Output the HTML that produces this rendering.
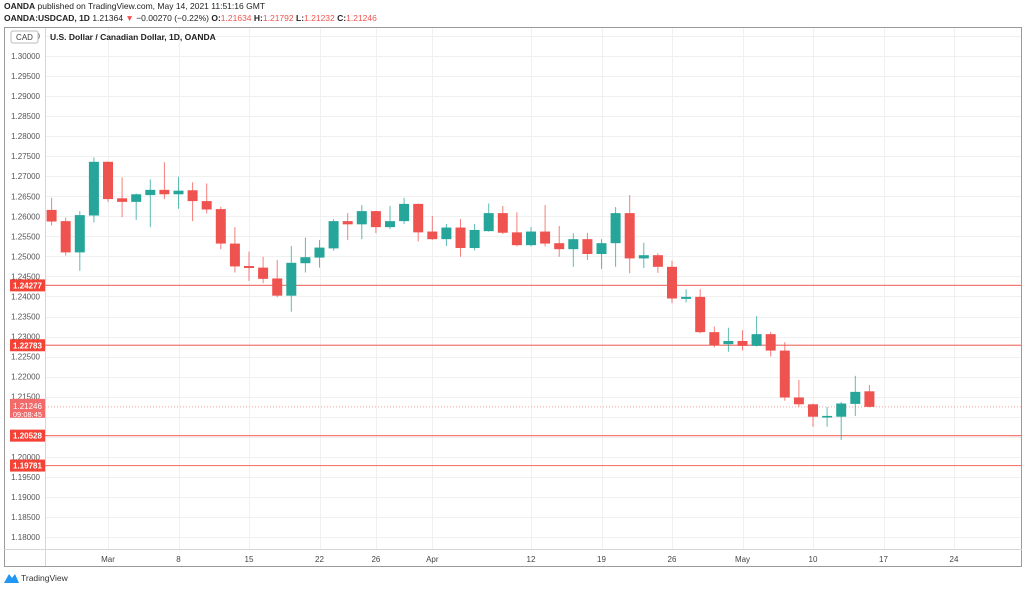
<!DOCTYPE html>
<html><head><meta charset="utf-8"><style>
body{margin:0;width:1024px;height:589px;background:#fff;overflow:hidden;font-family:"Liberation Sans",sans-serif;}
svg{display:block}
</style></head><body>
<svg id="c" width="1024" height="589" xmlns="http://www.w3.org/2000/svg">
<text x="4" y="9" font-size="8.5" fill="#222"><tspan font-weight="bold">OANDA</tspan> published on TradingView.com, May 14, 2021 11:51:16 GMT</text>
<text x="4" y="21" font-size="8.5" fill="#222"><tspan font-weight="bold">OANDA:USDCAD, 1D</tspan> 1.21364 <tspan fill="#ef5350">▼</tspan> −0.00270 (−0.22%) <tspan font-weight="bold">O:</tspan><tspan fill="#ef5350">1.21634</tspan> <tspan font-weight="bold">H:</tspan><tspan fill="#ef5350">1.21792</tspan> <tspan font-weight="bold">L:</tspan><tspan fill="#ef5350">1.21232</tspan> <tspan font-weight="bold">C:</tspan><tspan fill="#ef5350">1.21246</tspan></text>
<rect x="4.5" y="27.5" width="1017" height="539" fill="none" stroke="#9a9a9a"/>
<g id="grid"></g>
<line x1="45.5" y1="28" x2="45.5" y2="566" stroke="#d6d6d6"/>
<line x1="4" y1="549.5" x2="1022" y2="549.5" stroke="#d6d6d6"/>
<g id="ylabels"></g>
<g id="xlabels"></g>
<g id="hlines"></g>
<g id="candles"></g>
<g id="badges"></g>
<rect x="11" y="31" width="27" height="12" rx="2" fill="#fff" stroke="#bbb"/>
<text x="24.5" y="40" font-size="8" fill="#444" text-anchor="middle">CAD</text>
<text x="50" y="40" font-size="8.5" font-weight="bold" fill="#222">U.S. Dollar / Canadian Dollar, 1D, OANDA</text>
<g><path d="M4 583 L9 574 L12 578 L15 574 L19 583 Z" fill="#2196f3"/><text x="21" y="581" font-size="8.5" fill="#333">TradingView</text></g>
</svg>
<script>
const opens=[1.2616,1.2588,1.2510,1.2602,1.2736,1.2645,1.2636,1.2653,1.2666,1.2655,1.2665,1.2638,1.2618,1.2532,1.2476,1.2472,1.2445,1.2402,1.2483,1.2497,1.2520,1.2588,1.2580,1.2613,1.2573,1.2588,1.2631,1.2562,1.2543,1.2572,1.2521,1.2563,1.2608,1.2560,1.2528,1.2562,1.2533,1.2518,1.2543,1.2506,1.2533,1.2608,1.2495,1.2503,1.2474,1.2394,1.2399,1.2311,1.2281,1.2289,1.2277,1.2306,1.2265,1.2148,1.2131,1.2098,1.2100,1.2132,1.21634];
const highs=[1.2646,1.2597,1.2613,1.2747,1.2737,1.2697,1.2657,1.2692,1.2735,1.2699,1.2685,1.2682,1.2624,1.2573,1.2512,1.2499,1.2491,1.2526,1.2547,1.2541,1.2593,1.2608,1.2628,1.2614,1.2626,1.2646,1.2632,1.2601,1.2581,1.2593,1.2581,1.2632,1.2626,1.2610,1.2573,1.2628,1.2576,1.2558,1.2559,1.2543,1.2623,1.2653,1.2534,1.2508,1.2489,1.2418,1.2418,1.2325,1.2322,1.2316,1.2351,1.2312,1.2286,1.2192,1.2133,1.2124,1.2137,1.2202,1.21792];
const lows=[1.2577,1.2502,1.2464,1.2585,1.2636,1.2598,1.2591,1.2573,1.2643,1.2619,1.2588,1.2607,1.2518,1.2460,1.2439,1.2433,1.2398,1.2362,1.2460,1.2472,1.2514,1.2541,1.2543,1.2558,1.2568,1.2581,1.2537,1.2541,1.2526,1.2499,1.2515,1.2562,1.2556,1.2525,1.2525,1.2525,1.2499,1.2474,1.2491,1.2469,1.2474,1.2458,1.2471,1.2459,1.2383,1.2385,1.2308,1.2273,1.2262,1.2265,1.2275,1.2250,1.2140,1.2124,1.2075,1.2075,1.2042,1.2102,1.21232];
const closes=[1.2587,1.2510,1.2603,1.2736,1.2643,1.2636,1.2655,1.2666,1.2655,1.2664,1.2638,1.2617,1.2532,1.2475,1.2471,1.2444,1.2402,1.2484,1.2498,1.2522,1.2588,1.2580,1.2613,1.2573,1.2588,1.2631,1.2560,1.2543,1.2572,1.2521,1.2566,1.2608,1.2559,1.2528,1.2562,1.2532,1.2518,1.2543,1.2506,1.2533,1.2608,1.2495,1.2503,1.2474,1.2395,1.2399,1.2311,1.2279,1.2289,1.2277,1.2306,1.2265,1.2148,1.2131,1.2100,1.2102,1.2133,1.2162,1.21246];
const levels=[1.24277,1.22783,1.20528,1.19781];
const lastPrice=1.21246;
const priceTicks=[1.305,1.300,1.295,1.290,1.285,1.280,1.275,1.270,1.265,1.260,1.255,1.250,1.245,1.240,1.235,1.230,1.225,1.220,1.215,1.200,1.195,1.190,1.185,1.180];
const timeLabels=["Mar","8","15","22","26","Apr","12","19","26","May","10","17","24"];
const timeIdx=[4,9,14,19,23,27,34,39,44,49,54,59,64];

const NS="http://www.w3.org/2000/svg";
function y(p){return 56+(1.30-p)/0.005*20.04;}
function x(i){return 51.6+i*14.1;}
function mk(t,a,parent){const e=document.createElementNS(NS,t);for(const k in a)e.setAttribute(k,a[k]);document.getElementById(parent).appendChild(e);return e;}

for(let t=1.305;t>1.176;t-=0.005){
  const l=mk('line',{x1:46,x2:1021,y1:Math.round(y(t))+0.5,y2:Math.round(y(t))+0.5,stroke:'#f0f0f0'},'grid');
  
  
}
timeIdx.forEach((ti,k)=>{
  const xx=Math.round(x(ti))+0.5;
  const l=mk('line',{x1:xx,x2:xx,y1:28,y2:549,stroke:'#f0f0f0'},'grid');
  
  
  const tx=mk('text',{x:x(ti),y:562,'font-size':8,fill:'#444','text-anchor':'middle'},'xlabels');
  tx.textContent=timeLabels[k];
  
  
});
priceTicks.forEach(p=>{
  const tx=mk('text',{x:40,y:y(p)+3,'font-size':8,fill:'#555','text-anchor':'end'},'ylabels');
  tx.textContent=p.toFixed(5);
  
  
});
levels.forEach(p=>{
  const l=mk('line',{x1:45,x2:1021,y1:y(p),y2:y(p),stroke:'#f27a72','stroke-width':1.2},'hlines');
  
  
  const r=mk('rect',{x:10,y:y(p)-6,width:35,height:12,fill:'#f44336'},'badges');
  
  
  const tx=mk('text',{x:27.5,y:y(p)+3,'font-size':8,'font-weight':'bold',fill:'#fff','text-anchor':'middle'},'badges');
  tx.textContent=p.toFixed(5);
  
  
});
const pl=mk('line',{x1:45,x2:1021,y1:y(lastPrice),y2:y(lastPrice),stroke:'#f5a0a0','stroke-dasharray':'1,2'},'hlines');


const pb=mk('rect',{x:10,y:y(lastPrice)-8,width:35,height:19,fill:'#f26b6b'},'badges');


const pt=mk('text',{x:27.5,y:y(lastPrice)+2,'font-size':8,fill:'#fff','text-anchor':'middle'},'badges');
pt.textContent=lastPrice.toFixed(5);


const ct=mk('text',{x:27.5,y:y(lastPrice)+10,'font-size':7.5,fill:'#fff','text-anchor':'middle'},'badges');
ct.textContent='09:08:45';



opens.forEach((o,i)=>{
  const c=closes[i],up=c>=o,col=up?'#26a69a':'#ef5350';
  const cx=x(i);
  const w=mk('line',{x1:cx,x2:cx,y1:y(highs[i]),y2:y(lows[i]),stroke:col,'stroke-width':1,opacity:0.75},'candles');
  
  
  const top=y(Math.max(o,c)),bot=y(Math.min(o,c));
  const b=mk('rect',{x:cx-5,y:top,width:10,height:Math.max(1.5,bot-top),fill:col},'candles');
  
  
});
</script>
</body></html>
